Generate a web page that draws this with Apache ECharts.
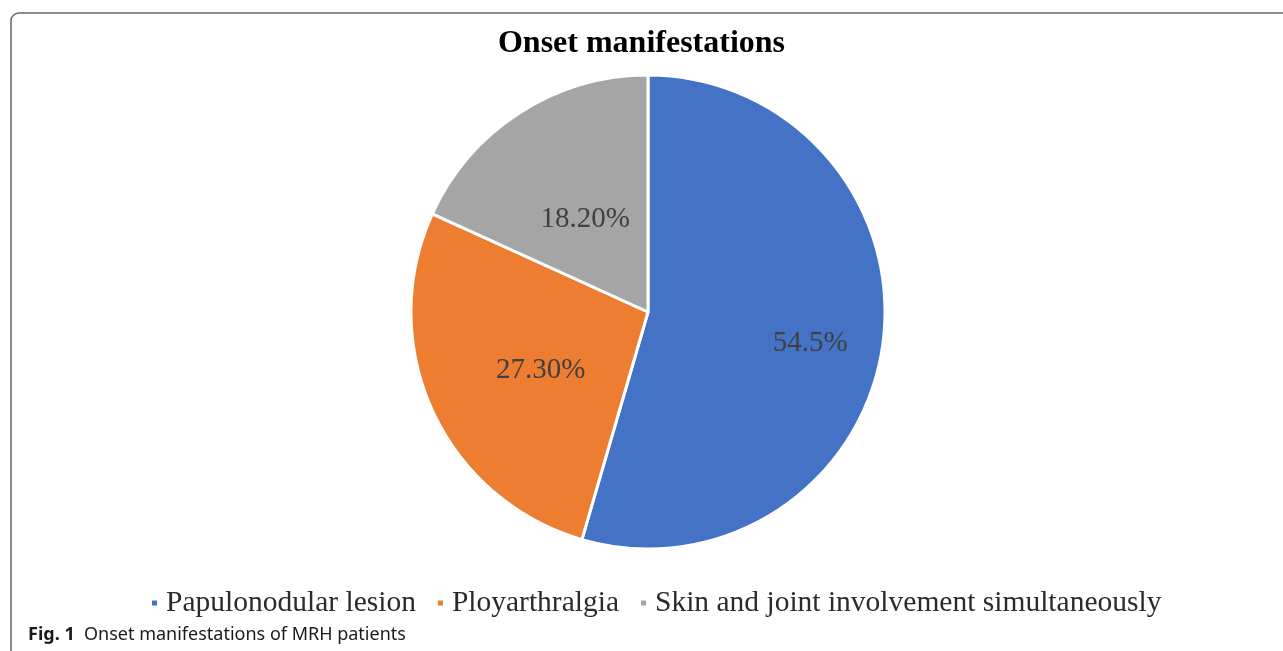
<!DOCTYPE html>
<html>
<head>
<meta charset="utf-8">
<script src="https://cdn.jsdelivr.net/npm/echarts@6/dist/echarts.min.js"></script>
<style>
  html, body { margin: 0; padding: 0; background: #fff; }
  #main { width: 1283px; height: 651px; }
</style>
</head>
<body>
<div id="main"></div>
<script>
    // 数据
    var categories = ['Papulonodular lesion', 'Ployarthralgia', 'Skin and joint involvement simultaneously'];
    var values = [54.5, 27.3, 18.2];
    var labelText = ['54.5%', '27.30%', '18.20%'];
    var colors = ['#4472C4', '#ED7D31', '#A5A5A5'];

    var serif = '"Liberation Serif", "Times New Roman", serif';
    var sans = '"Noto Sans", "Open Sans", sans-serif';

    // 标签微调
    var labelOffsets = [[42, 14], [3, 8], [3, 10]];

    var pieData = [];
    for (var i = 0; i < categories.length; i++) {
        pieData.push({
            name: categories[i],
            value: values[i],
            label: {offset: labelOffsets[i]}
        });
    }

    var legendData = [
        {name: categories[0], textStyle: {padding: [0, 0, 0, 3]}},
        {name: categories[1], textStyle: {padding: [0, 17, 0, 3]}},
        {name: categories[2], textStyle: {padding: [0, 0, 0, 3]}}
    ];

    var myChart = echarts.init(document.getElementById('main'));

    var option = {
        animation: false,
        color: colors,
        title: {
            text: 'Onset manifestations',
            left: 'center',
            top: 23,
            textStyle: {
                fontFamily: serif,
                fontWeight: 'bold',
                fontSize: 32,
                color: '#000'
            }
        },
        legend: {
            data: legendData,
            left: 145,
            top: 583,
            icon: 'rect',
            itemWidth: 7,
            itemHeight: 7,
            itemGap: 20,
            textStyle: {
                fontFamily: serif,
                fontSize: 29.5,
                color: '#2b2b2b'
            }
        },
        graphic: [
            {
                // 外框
                type: 'rect',
                shape: {x: 11, y: 13, width: 1320, height: 700, r: 8},
                style: {fill: 'none', stroke: '#666', lineWidth: 1.5}
            },
            {
                type: 'text',
                left: 28,
                top: 626,
                style: {
                    text: '{b|Fig. 1}  Onset manifestations of MRH patients',
                    font: '18px ' + sans,
                    fill: '#1a1a1a',
                    rich: {
                        b: {fontWeight: 'bold', fontSize: 18, fontFamily: sans, fill: '#1a1a1a'}
                    }
                }
            }
        ],
        series: [
            {
                name: 'Onset manifestations',
                type: 'pie',
                center: [648, 312],
                radius: 237,
                startAngle: 90,
                clockwise: true,
                itemStyle: {
                    borderColor: '#fff',
                    borderWidth: 3
                },
                label: {
                    show: true,
                    position: 'inside',
                    fontFamily: serif,
                    fontSize: 29,
                    color: '#404040',
                    formatter: function (p) {
                        return labelText[p.dataIndex];
                    }
                },
                labelLine: {show: false},
                data: pieData
            }
        ]
    };

    myChart.setOption(option);
</script>
</body>
</html>
